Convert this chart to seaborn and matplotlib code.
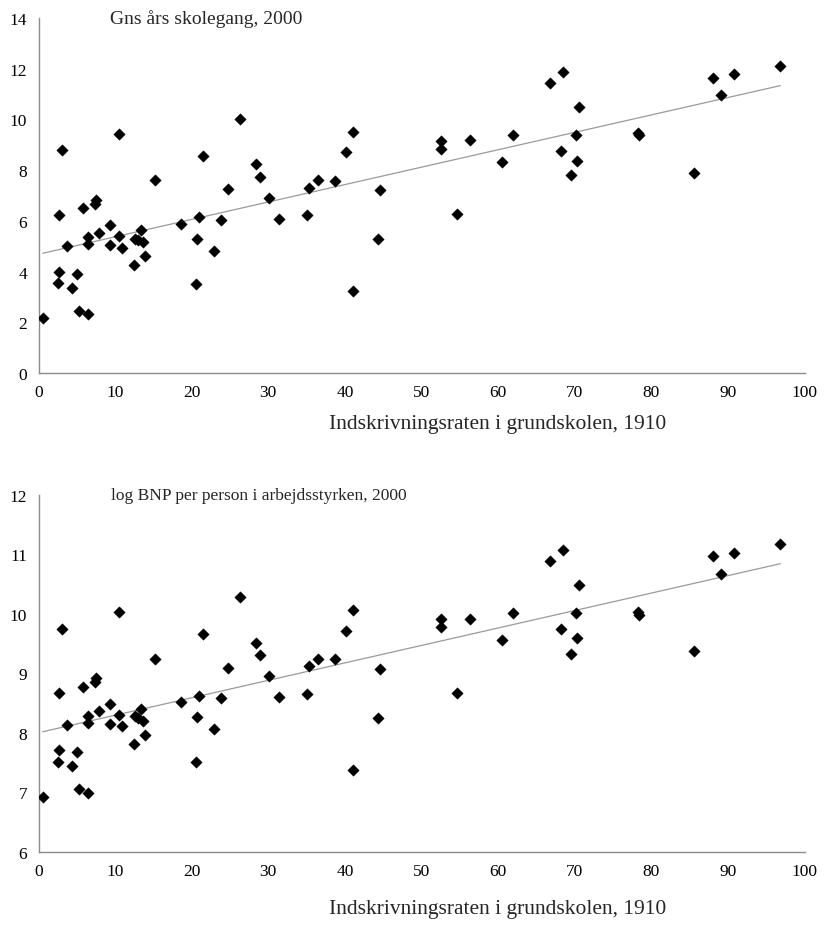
import numpy as np
import pandas as pd
import matplotlib
matplotlib.use("Agg")
import matplotlib.pyplot as plt
from matplotlib.ticker import FixedLocator
import seaborn as sns

# ---------------- data ----------------
enrol_1910 = [0.54, 2.50, 2.63, 2.63, 3.07, 3.68, 4.37, 4.98, 5.24, 5.77,
              6.42, 6.42, 6.46, 7.38, 7.55, 7.94, 9.38, 9.38, 10.47, 10.55,
              10.86, 12.51, 12.60, 13.00, 13.39, 13.60, 13.95,
              15.25, 18.65, 20.52, 20.74, 20.95, 21.43, 22.87, 23.83, 24.74, 26.35,
              28.35, 28.96, 30.13, 31.35, 35.01, 35.27, 36.44, 38.75, 40.14, 41.01,
              41.01, 44.32, 44.54,
              52.50, 52.50, 54.64, 56.29, 60.47, 61.90, 66.78, 68.25, 68.52, 69.47,
              70.17, 70.30, 70.56,
              78.30, 78.40, 85.57, 88.05, 89.06, 90.75, 96.85]

schooling_2000 = [2.17, 3.55, 3.97, 6.25, 8.79, 5.00, 3.36, 3.91, 2.46, 6.51,
                  2.33, 5.38, 5.07, 6.67, 6.83, 5.53, 5.82, 5.05, 5.39, 9.44,
                  4.93, 4.26, 5.30, 5.25, 5.62, 5.17, 4.61,
                  7.61, 5.89, 3.51, 5.28, 6.16, 8.57, 4.81, 6.02, 7.26, 10.00,
                  8.23, 7.73, 6.90, 6.07, 6.22, 7.29, 7.60, 7.58, 8.70, 9.50,
                  3.22, 5.28, 7.20,
                  9.15, 8.83, 6.27, 9.17, 8.33, 9.38, 11.44, 8.75, 11.88, 7.79,
                  9.37, 8.37, 10.50,
                  9.45, 9.38, 7.89, 11.65, 10.95, 11.78, 12.09]

log_gdp_2000 = [6.92, 7.52, 7.71, 8.68, 9.75, 8.14, 7.44, 7.68, 7.06, 8.78,
                7.00, 8.29, 8.17, 8.85, 8.92, 8.37, 8.48, 8.15, 8.31, 10.03,
                8.11, 7.82, 8.28, 8.25, 8.41, 8.21, 7.97,
                9.25, 8.52, 7.51, 8.27, 8.63, 9.67, 8.07, 8.58, 9.10, 10.29,
                9.52, 9.31, 8.95, 8.60, 8.65, 9.12, 9.25, 9.25, 9.72, 10.06,
                7.38, 8.26, 9.08,
                9.92, 9.78, 8.68, 9.92, 9.57, 10.01, 10.89, 9.75, 11.08, 9.33,
                10.01, 9.59, 10.49,
                10.04, 9.99, 9.37, 10.98, 10.68, 11.03, 11.17]

x_ticks = list(range(0, 101, 10))
top_y_ticks = list(range(0, 15, 2))
bottom_y_labels = list(range(6, 13))

title_top = "Gns års skolegang, 2000"
title_bottom = "log BNP per person i arbejdsstyrken, 2000"
x_label = "Indskrivningsraten i grundskolen, 1910"

df = pd.DataFrame({"enrol": enrol_1910,
                   "school": schooling_2000,
                   "gdp": log_gdp_2000})

# ---------------- style ----------------
sns.set_theme(style="white")
plt.rcParams['font.family'] = ['Liberation Serif', 'DejaVu Serif']

W, H = 827, 929
fig = plt.figure(figsize=(W / 100, H / 100), dpi=100)
ax1 = fig.add_axes([38.5 / W, 1 - 374 / H, 766 / W, 355 / H])
ax2 = fig.add_axes([38.5 / W, 1 - 853 / H, 766 / W, 357 / H])

spine_col = "#8c8c8c"
line_col = "#9a9a9a"
tick_fs = 12.5
xlabel_fs = 15.5


def draw(ax, ycol):
    sns.regplot(data=df, x="enrol", y=ycol, ax=ax, scatter=False, ci=None,
                truncate=True, color=line_col, line_kws={"linewidth": 0.9})
    sns.scatterplot(data=df, x="enrol", y=ycol, ax=ax, marker="D", s=34,
                    color="black", edgecolor="black", linewidth=0.3, zorder=3)
    for side in ("top", "right"):
        ax.spines[side].set_visible(False)
    for side in ("left", "bottom"):
        ax.spines[side].set_color(spine_col)
        ax.spines[side].set_linewidth(1.0)
    ax.set_xlim(0, 100)
    ax.set_xticks(x_ticks)
    ax.tick_params(axis="both", which="major", direction="out", length=3.6,
                   width=1.0, color=spine_col, labelcolor="black",
                   labelsize=tick_fs, pad=4.5)
    ax.set_ylabel("")
    ax.set_xlabel(x_label, fontsize=xlabel_fs)
    ax.xaxis.label.set_va("center")


# top panel
draw(ax1, "school")
ax1.set_ylim(0, 14)
ax1.set_yticks(top_y_ticks)
ax1.xaxis.set_label_coords((497.5 - 38.5) / 766, (374 - 425) / 355)
ax1.text((110 - 38.5) / 766, 1.0, title_top, transform=ax1.transAxes,
         fontsize=14, va="center", ha="left")

# bottom panel
draw(ax2, "gdp")
ax2.set_ylim(6, 12)
ax2.set_yticks(bottom_y_labels)
ax2.tick_params(axis="y", which="major", length=0, pad=8.1)
ax2.yaxis.set_minor_locator(FixedLocator(np.linspace(6, 12, 8)))
ax2.tick_params(axis="y", which="minor", direction="out", length=3.6,
                width=1.0, color=spine_col)
ax2.xaxis.set_label_coords((497.5 - 38.5) / 766, (853 - 910) / 357)
ax2.text((111 - 38.5) / 766, 1.0, title_bottom, transform=ax2.transAxes,
         fontsize=12.5, va="center", ha="left")

fig.savefig("out.png", dpi=100, facecolor="white")
